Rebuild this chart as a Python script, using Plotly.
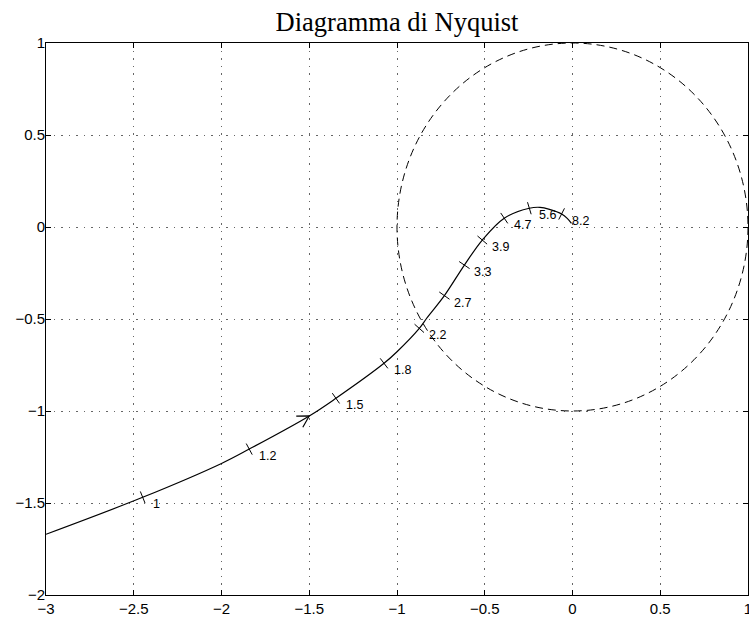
import numpy as np
import plotly.graph_objects as go

# ---- data ----
curve_re = [-3.0, -2.449, -2.0, -1.842, -1.5, -1.348, -1.074, -1.0, -0.873, -0.831,
            -0.730, -0.616, -0.514, -0.389, -0.246, -0.185, -0.131, -0.062, -0.030, -0.006]
curve_im = [-1.670, -1.469, -1.285, -1.207, -1.027, -0.931, -0.741, -0.678, -0.551, -0.496,
            -0.373, -0.207, -0.071, 0.048, 0.102, 0.107, 0.096, 0.071, 0.047, 0.020]

freq_labels = ["1", "1.2", "1.5", "1.8", "2.2", "2.7", "3.3", "3.9", "4.7", "5.6", "8.2"]
freq_re = [-2.449, -1.842, -1.348, -1.074, -0.873, -0.730, -0.616, -0.514, -0.389, -0.246, -0.062]
freq_im = [-1.469, -1.207, -0.931, -0.741, -0.551, -0.373, -0.207, -0.071, 0.048, 0.102, 0.071]

arrow_re = -1.5
arrow_im = -1.027

circle_center = (0.0, 0.0)
circle_radius = 1.0

x_range = [-3, 1]
y_range = [-2, 1]
tick_step = 0.5
title_text = "Diagramma di Nyquist"

# ---- geometry helpers (pixel scale of the plot area) ----
W, H = 749, 617
M = dict(l=46, r=1, t=43, b=22)
px_x = (W - M["l"] - M["r"]) / (x_range[1] - x_range[0])
px_y = (H - M["t"] - M["b"]) / (y_range[1] - y_range[0])

cre = np.array(curve_re)
cim = np.array(curve_im)


def tangent_angle(xv, yv):
    i = int(np.argmin((cre - xv) ** 2 + (cim - yv) ** 2))
    i0, i1 = max(i - 1, 0), min(i + 1, len(cre) - 1)
    dx = (cre[i1] - cre[i0]) * px_x
    dy = (cim[i1] - cim[i0]) * px_y
    return np.degrees(np.arctan2(dy, dx))


tick_angles = [-tangent_angle(a, b) for a, b in zip(freq_re, freq_im)]

fig = go.Figure()

fig.add_trace(go.Scatter(
    x=curve_re, y=curve_im, mode="lines",
    line=dict(color="black", width=1.2, shape="spline", smoothing=1.0),
    hoverinfo="skip", showlegend=False))

fig.add_trace(go.Scatter(
    x=freq_re, y=freq_im, mode="markers",
    marker=dict(symbol="line-ns", size=9, angle=tick_angles,
                line=dict(color="black", width=1)),
    hoverinfo="skip", showlegend=False))

# arrow head (two strokes) oriented along the curve
th = np.radians(tangent_angle(arrow_re, arrow_im))
arm = 13
ax_pts, ay_pts = [], []
for d in (np.pi - np.radians(30), None, np.pi + np.radians(30)):
    if d is None:
        ax_pts.append(arrow_re)
        ay_pts.append(arrow_im)
    else:
        ax_pts.append(arrow_re + arm * np.cos(th + d) / px_x)
        ay_pts.append(arrow_im + arm * np.sin(th + d) / px_y)
fig.add_trace(go.Scatter(
    x=ax_pts, y=ay_pts, mode="lines",
    line=dict(color="black", width=1.2),
    hoverinfo="skip", showlegend=False))

# frequency labels
for lab, xv, yv in zip(freq_labels, freq_re, freq_im):
    fig.add_annotation(x=xv, y=yv, text=lab, showarrow=False,
                       xanchor="left", yanchor="middle", xshift=8, yshift=-7,
                       font=dict(family="Liberation Sans, Arial", size=12.5, color="black"))

# dashed unit circle
cx, cy = circle_center
fig.add_shape(type="circle", xref="x", yref="y",
              x0=cx - circle_radius, y0=cy - circle_radius,
              x1=cx + circle_radius, y1=cy + circle_radius,
              line=dict(color="black", width=1, dash="8px,5px"))

axis_common = dict(
    showline=True, linecolor="black", linewidth=1, mirror="ticks",
    ticks="inside", ticklen=5, tickcolor="black", tickwidth=1,
    showgrid=True, gridcolor="#666", gridwidth=1, griddash="1.5px,6px",
    zeroline=False, dtick=tick_step, ticklabeloverflow="allow", automargin=False,
    tickfont=dict(family="Liberation Sans, Arial", size=15, color="black"),
)

fig.update_xaxes(range=x_range, tick0=x_range[0], **axis_common)
fig.update_yaxes(range=y_range, tick0=y_range[0], ticklabelstandoff=-3, **axis_common)

fig.update_layout(
    width=W, height=H, margin=M,
    paper_bgcolor="white", plot_bgcolor="white",
    title=dict(text=title_text, x=0.5, xanchor="center", xref="paper",
               y=1 - 22 / H, yref="container", yanchor="middle",
               font=dict(family="Liberation Serif, Times New Roman", size=26.5, color="black")),
)

fig.write_html("out.html")
